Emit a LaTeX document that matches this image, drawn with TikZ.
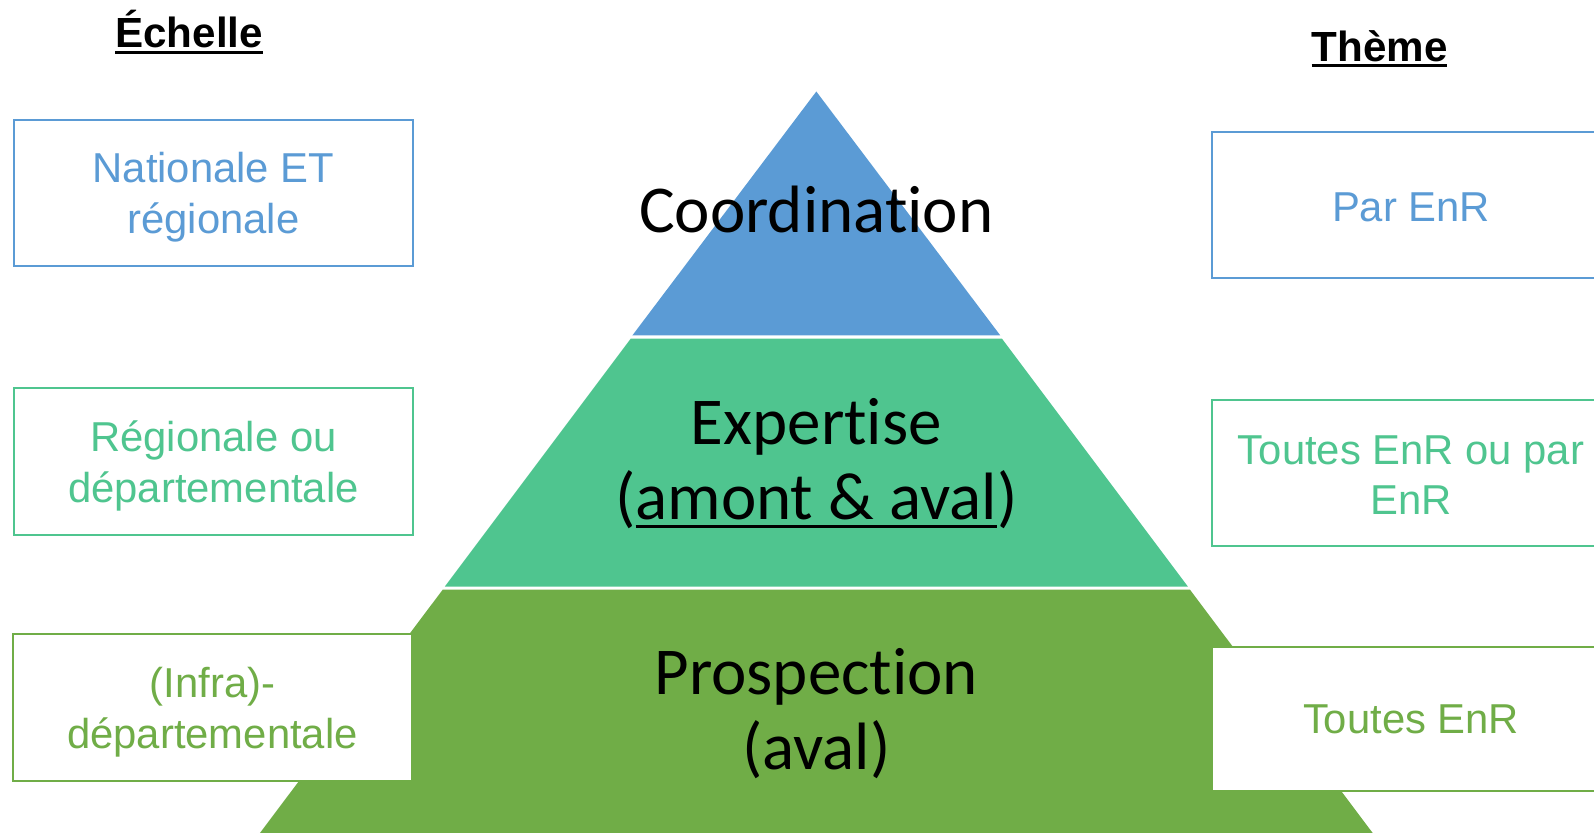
\documentclass[tikz,border=0pt]{standalone}
\usepackage{fontspec}
\setmainfont{Liberation Sans}
\newfontfamily\calfont[Ligatures=NoCommon,RawFeature={-calt}]{Carlito}
\definecolor{cblue}{HTML}{5B9BD5}
\definecolor{cteal}{HTML}{4FC58F}
\definecolor{cgreen}{HTML}{70AD47}
\newcommand\myul[3]{\setbox0\hbox{#1}\makebox[0pt][l]{\rule[#2]{\wd0}{#3}}\box0}
\begin{document}
\begin{tikzpicture}[x=0.02cm,y=-0.02cm,
 box/.style={draw=#1, line width=1.2pt, fill=white, minimum width=7.84cm, minimum height=2.88cm, inner sep=0pt},
 boxtext/.style={text=#1, font=\fontsize{23.4}{28.3}\selectfont, align=center, inner sep=0pt},
 pyr/.style={font=\calfont\fontsize{37.5}{42}\selectfont, align=center, text=black, inner sep=0pt},
 head/.style={font=\bfseries\fontsize{23.6}{28}\selectfont, inner sep=0pt, anchor=base}]
\useasboundingbox (0,0) rectangle (1568,819);
\clip (0,0) rectangle (1568,819);
% pyramid
\fill[cblue] (803,90) -- (984,330) -- (622,330) -- cycle;
\fill[cteal] (620.5,333) -- (985.5,333) -- (1168.5,577) -- (437.5,577) -- cycle;
\fill[cgreen] (435.5,580) -- (1170.5,580) -- (1362,835) -- (244,835) -- cycle;
\node[pyr] (coord) at (803,206) {Coordinat\kern0pt ion};
\node[pyr] (exp) at (803,456) {Expert\kern0pt ise\\(\myul{amont \& aval}{-5pt}{1.8pt})};
\node[pyr] (prosp) at (803,702) {Prospect\kern0pt ion\\(aval)};
% headers
\node[head] (hech) at (186,47) {\myul{Échelle}{-3.5pt}{1.7pt}};
\node[head] (hthe) at (1357,60) {\myul{Thème}{-3.5pt}{1.7pt}};
% left boxes
\node[box=cblue] (l1) at (210,190) {};
\node[boxtext=cblue] (l1t) at (210,194) {Nationale ET\\régionale};
\node[box=cteal] (l2) at (210,454) {};
\node[boxtext=cteal] (l2t) at (210,458.5) {Régionale ou\\départementale};
\node[box=cgreen] (l3) at (209,696) {};
\node[boxtext=cgreen] (l3t) at (209,700.5) {(Infra)-\\départementale};
% right boxes
\node[box=cblue] (r1) at (1388,201.5) {};
\node[boxtext=cblue] (r1t) at (1388,203.5) {Par EnR};
\node[box=cteal] (r2) at (1388,465.5) {};
\node[boxtext=cteal] (r2t) at (1388,467.5) {Toutes EnR ou par\\EnR};
\node[box=cgreen, minimum height=2.84cm] (r3) at (1388,707) {};
\node[boxtext=cgreen] (r3t) at (1388,708) {Toutes EnR};
\end{tikzpicture}
\end{document}
